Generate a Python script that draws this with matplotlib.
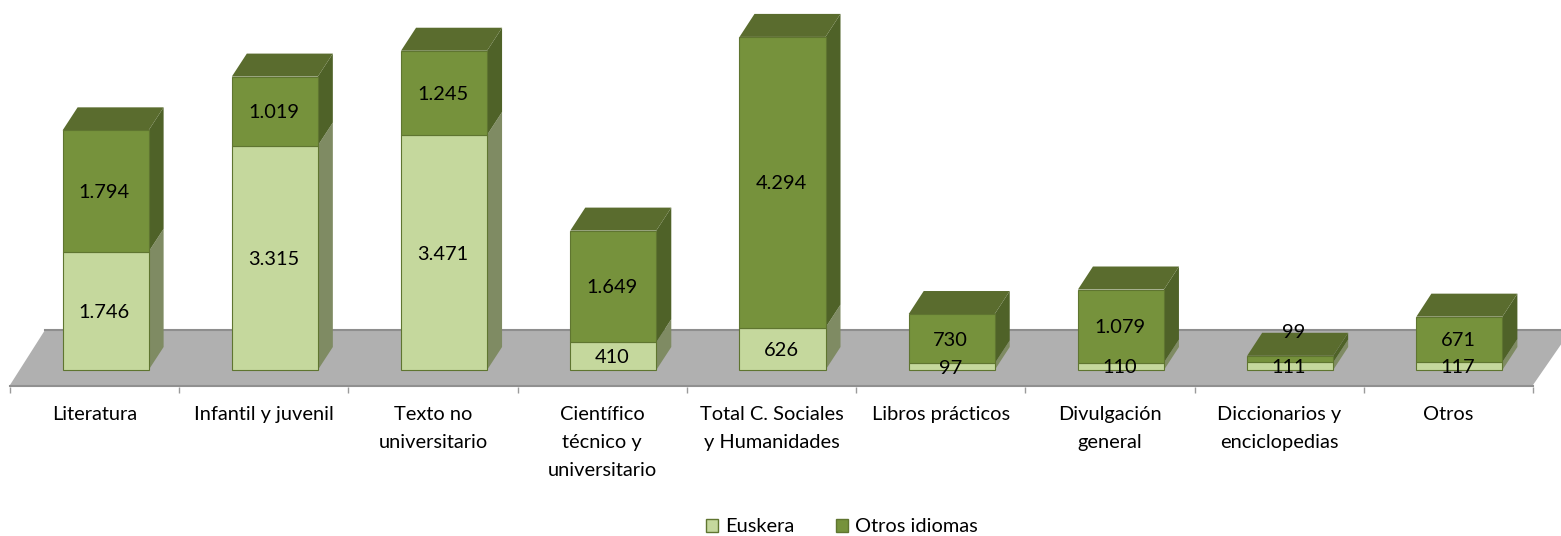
import matplotlib
matplotlib.use("Agg")
import matplotlib.pyplot as plt
import numpy as np
from matplotlib.patches import Patch

plt.rcParams['font.family'] = ['Lato', 'DejaVu Sans']

# datos
categorias = ["Literatura", "Infantil y juvenil", "Texto no\nuniversitario",
              "Científico\ntécnico y\nuniversitario", "Total C. Sociales\ny Humanidades",
              "Libros prácticos", "Divulgación\ngeneral", "Diccionarios y\nenciclopedias", "Otros"]
euskera = [1746, 3315, 3471, 410, 626, 97, 110, 111, 117]
otros = [1794, 1019, 1245, 1649, 4294, 730, 1079, 99, 671]

W, H = 1561, 536
px_y = 0.0677            # pixeles por unidad
px_x = 169.2             # pixeles por categoria
base_px = 370            # linea del cero en pixeles
fondo_px = 387           # borde inferior del suelo
letra = 14.4

fig = plt.figure(figsize=(W / 100, H / 100), dpi=100)
ax = fig.add_axes([10 / W, (H - fondo_px) / H, 1523 / W, fondo_px / H])
ax.set_xlim(-0.5, 8.5)
ax.set_ylim(-(fondo_px - base_px) / px_y, base_px / px_y)

x = np.arange(len(categorias)) + 0.065
ancho = 86 / px_x
dx = 15 / px_x
dy = 23 / px_y
e = np.array(euskera)
o = np.array(otros)

# suelo gris en perspectiva
y_del = -15 / px_y
y_atr = 40 / px_y
ax.fill([-0.5, -0.5 + 35 / px_x, 8.5 + 38 / px_x, 8.5], [y_del, y_atr, y_atr, y_del],
        color="#b0b0b0", clip_on=False, zorder=1, lw=0)
ax.plot([-0.5 + 35 / px_x, 8.5 + 38 / px_x], [y_atr, y_atr], color="#8e8e8e", lw=1.5, zorder=1.5, clip_on=False)
ax.plot([-0.5, 8.5], [y_del - 1 / px_y, y_del - 1 / px_y], color="#909090", lw=1.5, zorder=1.5, clip_on=False)

claro = "#c5d89d"
claro_lado = "#7f8b63"
oscuro = "#76923c"
oscuro_lado = "#4f6228"
oscuro_tapa = "#5a6c2e"
borde = "#5f7530"


def lado(xi, y0, y1, color, z):
    x1 = xi + ancho / 2
    ax.fill([x1, x1 + dx, x1 + dx, x1], [y0, y0 + dy, y1 + dy, y1], color=color, lw=0, zorder=z)


for i in range(len(x)):
    lado(x[i], 0, e[i], claro_lado, 2 + i * 0.01)
    lado(x[i], e[i], e[i] + o[i], oscuro_lado, 2.5 + i * 0.01)
    t = e[i] + o[i]
    x0 = x[i] - ancho / 2
    ax.fill([x0, x0 + dx, x0 + ancho + dx, x0 + ancho], [t, t + dy, t + dy, t],
            color=oscuro_tapa, lw=0, zorder=2.6)

ax.bar(x, e, ancho, color=claro, edgecolor=borde, linewidth=0.8, zorder=3)
ax.bar(x, o, ancho, bottom=e, color=oscuro, edgecolor=borde, linewidth=0.8, zorder=3)

# etiquetas de valor (formato con punto de miles)
def fmt(v):
    return f"{v:,}".replace(",", ".")


baja = 1.5 / px_y
for i in range(len(x)):
    ax.text(x[i] - 0.008, e[i] / 2 - baja, fmt(euskera[i]), ha="center", va="center", fontsize=letra,
            color="black", zorder=5)
    if otros[i] < 200:
        # el 99 queda por encima de la barra
        ax.text(x[i] + 0.02, e[i] + o[i] + 345, fmt(otros[i]), ha="center", va="center", fontsize=letra,
                color="black", zorder=5)
    else:
        ax.text(x[i] - 0.008, e[i] + o[i] / 2 - baja, fmt(otros[i]), ha="center", va="center", fontsize=letra,
                color="black", zorder=5)

for s in ax.spines.values():
    s.set_visible(False)
ax.set_yticks([])
ax.set_xticks(np.arange(len(categorias)))
ax.set_xticklabels(categorias, fontsize=letra, linespacing=1.78, color="black")
ax.tick_params(axis="x", which="major", length=0, pad=13.5)
ax.set_xticks(np.arange(-0.5, 9, 1), minor=True)
ax.tick_params(axis="x", which="minor", length=4.5, width=1, color="#9a9a9a")
ax.patch.set_alpha(0)

h = [Patch(facecolor=claro, edgecolor=borde, label="Euskera"),
     Patch(facecolor=oscuro, edgecolor=borde, label="Otros idiomas")]
fig.legend(handles=h, loc="center", bbox_to_anchor=(842 / W, (H - 527) / H), ncol=2, frameon=False,
           fontsize=letra, handlelength=0.6, handleheight=0.6, handletextpad=0.35, columnspacing=2.05,
           borderpad=0, borderaxespad=0)

fig.savefig("out.png", dpi=100)
